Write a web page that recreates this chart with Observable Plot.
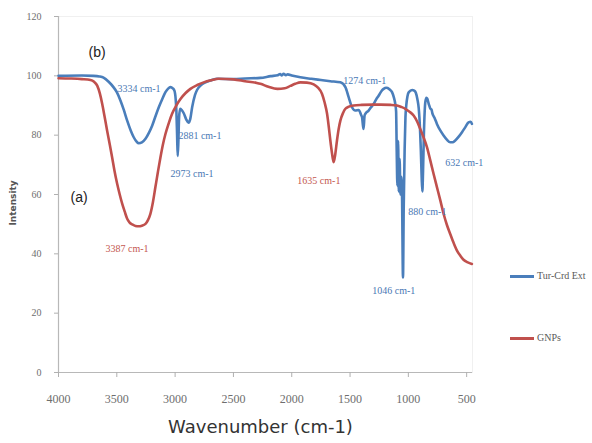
<!DOCTYPE html>
<html>
<head>
<meta charset="utf-8">
<script src="https://cdn.jsdelivr.net/npm/d3@7"></script>
<script src="https://cdn.jsdelivr.net/npm/@observablehq/plot@0.6"></script>
<style>
  html, body { margin: 0; padding: 0; background: #fff; }
  #wrap { position: relative; width: 592px; height: 443px; overflow: hidden; }
  .leg { position: absolute; font: 10px "Liberation Serif", serif; color: #595959; white-space: nowrap; }
  .leg span.sw { display: inline-block; width: 24px; height: 3px; vertical-align: middle; margin-right: 3px; }
</style>
</head>
<body>
<div id="wrap"></div>
<script>
// ---- Data ----
const seriesNames = ["Tur-Crd Ext", "GNPs"];

const turWavenumber = [4000,3800,3700,3650,3614,3570,3529,3500,3469,3440,3411,3380,3355,3330,3312,3285,3254,3225,3197,3170,3140,3110,3083,3060,3040,3020,3006,2995,2989,2983,2978,2972,2966,2957,2945,2926,2905,2885,2870,2854,2830,2811,2780,2740,2690,2640,2500,2400,2269,2180,2120,2100,2085,2070,2050,2035,2000,1926,1832,1750,1669,1583,1540,1512,1483,1455,1426,1405,1397,1390,1384,1376,1369,1341,1320,1298,1277,1255,1230,1212,1190,1178,1160,1140,1125,1112,1105,1100,1094,1088,1082,1075,1068,1060,1054,1046,1040,1032,1025,1018,1008,996,967,950,936,922,911,900,893,886,880,874,867,860,855,845,838,825,812,800,795,775,755,725,698,670,641,620,598,570,540,510,484,465,455];
const turIntensity  = [100,100.1,100,99.8,99.4,98,96.2,94.5,91.7,88.5,84.9,81.5,79.3,77.8,77.3,77.6,78.8,80.8,83.2,86.2,89.4,92.2,94.5,95.7,96.2,95.8,95,92,88,80,73,78,86,88.9,88.5,87.4,85.3,84.2,85.5,89.4,93.5,95.3,96.8,97.8,98.5,99,98.9,99.1,99.3,99.9,100.2,100.6,100.1,100.7,100.2,100.5,100.1,99.5,99,98.6,98.2,97.8,96.2,92.8,89.4,88.3,88.5,86.8,86,83.5,82.1,86.5,87.2,88.3,89.4,90.5,92,93.3,94.9,95.6,96,95.9,95.4,94.5,92.8,90.5,88,75,63,78,61,72,60,66,59,32,55,75,86,90,93,94.5,95.2,95,94.3,92,89,82,75,66,61,68,80,88,91,92.6,92.3,90.5,89,88.5,87.5,85.8,83.8,81.5,79.9,78.5,77.6,77.6,78.2,79.4,81,82.8,84.3,84.5,83.8];

const gnpWavenumber = [4000,3900,3800,3726,3695,3668,3645,3625,3605,3583,3560,3540,3520,3497,3475,3454,3432,3411,3390,3368,3340,3312,3285,3254,3235,3212,3190,3169,3148,3126,3105,3083,3055,3026,2990,2954,2910,2869,2810,2755,2690,2626,2500,2400,2300,2269,2200,2123,2060,2012,1970,1926,1870,1812,1775,1740,1718,1697,1683,1669,1655,1641,1627,1612,1598,1583,1560,1540,1510,1469,1400,1300,1240,1150,1097,1060,1026,990,955,925,898,870,840,812,784,755,726,698,670,641,612,583,555,527,490,455];
const gnpIntensity  = [99.2,99.1,98.9,98.6,98,96.7,94,90.5,86.3,81.5,76.8,72.5,68,63.6,60,56.9,54.2,51.8,50.5,49.9,49.4,49.3,49.5,50.1,51.2,53.5,57.5,62.5,67.5,72.5,76.8,80.4,84,87.2,90,92.2,94.2,95.6,96.9,97.8,98.5,99,98.8,98.2,97.6,97.3,96.3,95.6,95.8,96.6,97.3,97.8,97.7,97.1,96,93.9,91,87.2,83,78.2,74,70.9,73.5,78.2,82,84.9,87.5,88.9,89.6,90,90.2,90.3,90.3,90.2,90,89.5,88.9,87.9,86.6,84.6,82.1,79.3,75.9,71.5,67,62.5,58,53.5,49.8,46.7,43.7,41.1,39.4,38,37.1,36.6];

const xTicks = [4000,3500,3000,2500,2000,1500,1000,500];
const yTicks = [0,20,40,60,80,100,120];

// peak annotations: label, wavenumber, intensity, series
const annLabels = ["3334 cm-1","2881 cm-1","2973 cm-1","1274 cm-1","632 cm-1","880 cm-1","1046 cm-1","1635 cm-1","3387 cm-1"];
const annX      = [3494, 2972, 3040, 1558, 683, 1000, 1309, 1952, 3597];
const annY      = [95.7, 79.9, 67.1, 98.4, 70.8, 54.3, 27.6, 64.7, 41.8];
const annSeries = ["Tur-Crd Ext","Tur-Crd Ext","Tur-Crd Ext","Tur-Crd Ext","Tur-Crd Ext","Tur-Crd Ext","Tur-Crd Ext","GNPs","GNPs"];

const panelLabels = ["(b)", "(a)"];
const panelX = [3743, 3897];
const panelY = [107.9, 59];

// ---- Build tables ----
const tur = turWavenumber.map((w, i) => ({wn: w, val: turIntensity[i]})).sort((a, b) => a.wn - b.wn);
const gnp = gnpWavenumber.map((w, i) => ({wn: w, val: gnpIntensity[i]})).sort((a, b) => a.wn - b.wn);
const ann = annLabels.map((t, i) => ({t, x: annX[i], y: annY[i], s: annSeries[i]}));
const panels = panelLabels.map((t, i) => ({t, x: panelX[i], y: panelY[i]}));

const blue = "#4a7ebb", red = "#c0504d";
const labelColor = {"Tur-Crd Ext": "#4a78b4", "GNPs": "#c4574f"};

const chart = Plot.plot({
  width: 592,
  height: 443,
  marginLeft: 58,
  marginRight: 120,
  marginTop: 16,
  marginBottom: 71,
  style: {color: "#6e6e6e", background: "#fff"},
  x: {domain: [4000, 450]},
  y: {domain: [0, 120]},
  marks: [
    Plot.frame({stroke: "#f0f0f0"}),
    Plot.ruleY([0], {stroke: "#b8b8b8", strokeWidth: 1.2}),
    Plot.ruleX([4000], {stroke: "#b8b8b8", strokeWidth: 1.2}),
    Plot.axisX({ticks: xTicks, tickFormat: d => String(d), tickSize: 5, tickPadding: 17, fontSize: 12, fontFamily: "Liberation Serif", label: null, stroke: "#b0b0b0"}),
    Plot.axisY({ticks: yTicks, tickFormat: d => String(d), tickSize: 4, tickPadding: 13, fontSize: 10, fontFamily: "Liberation Serif", label: null, stroke: "#b0b0b0"}),
    Plot.line(tur, {x: "wn", y: "val", stroke: blue, strokeWidth: 2.6, curve: "monotone-x"}),
    Plot.line(gnp, {x: "wn", y: "val", stroke: red, strokeWidth: 2.6, curve: "monotone-x"}),
    Plot.text(ann, {x: "x", y: "y", text: "t", fill: d => labelColor[d.s], textAnchor: "start", fontSize: 10, fontFamily: "Liberation Serif"}),
    Plot.text(panels, {x: "x", y: "y", text: "t", fill: "#222", textAnchor: "start", fontSize: 14, fontFamily: "Liberation Sans"}),
    Plot.text(["Wavenumber (cm-1)"], {frameAnchor: "bottom", dy: 60, dx: -5, fontSize: 18, fontFamily: "DejaVu Sans", fill: "#333"}),
    Plot.text(["Intensity"], {frameAnchor: "left", dx: -45, dy: 31, rotate: -90, fontSize: 9, fontFamily: "DejaVu Sans", fill: "#555", fontWeight: "bold"})
  ]
});

const wrap = document.getElementById("wrap");
wrap.appendChild(chart);

// legend (placed right of the plot, as in the reference)
const legendColors = [blue, red];
const legendTops = [270, 332];
seriesNames.forEach((name, i) => {
  const d = document.createElement("div");
  d.className = "leg";
  d.style.left = "510px";
  d.style.top = legendTops[i] + "px";
  d.innerHTML = `<span class="sw" style="background:${legendColors[i]}"></span>${name}`;
  wrap.appendChild(d);
});
</script>
</body>
</html>
